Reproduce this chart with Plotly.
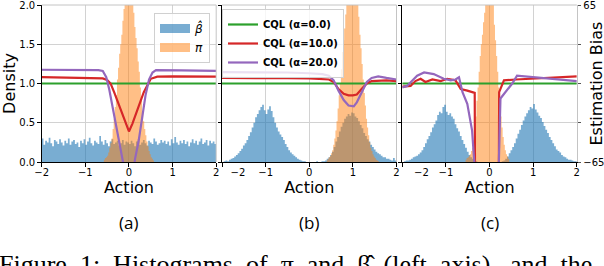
import numpy as np
import plotly.graph_objects as go

W, H = 604, 266

# ---------------- data ----------------
x_ticks = [-2, -1, 0, 1, 2]
x_tick_labels = ["\u22122", "\u22121", "0", "1", "2"]
y_ticks = [0, 0.5, 1.0, 1.5, 2.0]
y_tick_labels = ["0.0", "0.5", "1.0", "1.5", "2.0"]
bias_ticks = [-65, -32.5, 0, 32.5, 65]
bias_tick_labels = ["\u221265", "", "", "", "65"]

panel_labels = ["(a)", "(b)", "(c)"]
series_names = ["CQL (\u03b1=0.0)", "CQL (\u03b1=10.0)", "CQL (\u03b1=20.0)"]
hist_names = ["\u03b2\u0302", "\u03c0"]

beta_start, beta_bin = -2.0, 0.04   # behaviour-policy histogram bins
pi_bin = 0.025                      # learned-policy histogram bins

a_beta = [0.30, 0.22, 0.27, 0.25, 0.31, 0.24, 0.20, 0.28, 0.26, 0.23,
          0.29, 0.25, 0.21, 0.27, 0.24, 0.30, 0.22, 0.26, 0.28, 0.23,
          0.25, 0.19, 0.27, 0.24, 0.29, 0.22, 0.26, 0.31, 0.24, 0.21,
          0.27, 0.25, 0.23, 0.33, 0.26, 0.22, 0.28, 0.24, 0.20, 0.26,
          0.29, 0.23, 0.25, 0.27, 0.21, 0.24, 0.28, 0.22, 0.26, 0.25,
          0.23, 0.27, 0.24, 0.20, 0.26, 0.29, 0.22, 0.25, 0.28, 0.24,
          0.21, 0.27, 0.25, 0.23, 0.30, 0.26, 0.22, 0.24, 0.28, 0.25,
          0.27, 0.23, 0.26, 0.21, 0.29, 0.24, 0.32, 0.25, 0.22, 0.27,
          0.24, 0.28, 0.23, 0.26, 0.20, 0.25, 0.29, 0.24, 0.27, 0.22,
          0.26, 0.30, 0.23, 0.25, 0.28, 0.21, 0.27, 0.24, 0.26, 0.23]
a_pi_start = -0.575
a_pi = [0.03, 0.05, 0.06, 0.08, 0.12, 0.18, 0.24, 0.30, 0.42, 0.55,
        0.70, 0.85, 1.05, 1.20, 1.38, 1.50, 1.62, 1.80, 1.95, 2.10,
        2.30, 2.50, 2.60, 2.40, 2.60, 2.30, 2.10, 1.90, 1.72, 1.58,
        1.45, 1.28, 1.15, 0.95, 0.78, 0.64, 0.52, 0.42, 0.34, 0.26,
        0.20, 0.14, 0.10, 0.06, 0.04, 0.02]

b_beta = [0.00, 0.01, 0.02, 0.01, 0.03, 0.04, 0.05, 0.07, 0.09, 0.11,
          0.14, 0.17, 0.21, 0.24, 0.28, 0.33, 0.38, 0.44, 0.50, 0.57,
          0.61, 0.66, 0.70, 0.73, 0.66, 0.61, 0.67, 0.71, 0.65, 0.57,
          0.50, 0.44, 0.39, 0.35, 0.32, 0.28, 0.23, 0.19, 0.15, 0.12,
          0.10, 0.08, 0.06, 0.04, 0.03, 0.02, 0.01, 0.01, 0.00, 0.00,
          0.00, 0.00, 0.00, 0.00, 0.01, 0.00, 0.00, 0.01, 0.01, 0.02,
          0.04, 0.06, 0.09, 0.13, 0.19, 0.26, 0.32, 0.39, 0.45, 0.50,
          0.55, 0.58, 0.61, 0.59, 0.63, 0.62, 0.58, 0.56, 0.52, 0.47,
          0.43, 0.37, 0.33, 0.29, 0.26, 0.22, 0.19, 0.16, 0.13, 0.11,
          0.10, 0.08, 0.06, 0.06, 0.04, 0.04, 0.03, 0.02, 0.05, 0.02]
b_pi_start = 0.40
b_pi = [0.02, 0.04, 0.06, 0.08, 0.11, 0.15, 0.22, 0.30, 0.40, 0.52,
        0.68, 0.85, 1.00, 1.18, 1.40, 1.55, 1.70, 1.88, 2.05, 2.20,
        2.40, 2.50, 2.60, 2.50, 2.60, 2.45, 2.30, 2.15, 2.00, 1.85,
        1.62, 1.45, 1.25, 1.05, 0.88, 0.72, 0.55, 0.44, 0.34, 0.25,
        0.18, 0.14, 0.10, 0.07, 0.05, 0.03, 0.02, 0.01]

c_beta = [0.00, 0.01, 0.02, 0.02, 0.03, 0.04, 0.06, 0.07, 0.08, 0.10,
          0.12, 0.15, 0.19, 0.24, 0.29, 0.33, 0.38, 0.44, 0.48, 0.53,
          0.60, 0.64, 0.62, 0.70, 0.73, 0.64, 0.60, 0.62, 0.58, 0.55,
          0.48, 0.43, 0.39, 0.33, 0.28, 0.23, 0.18, 0.13, 0.09, 0.06,
          0.04, 0.02, 0.01, 0.00, 0.00, 0.00, 0.00, 0.00, 0.00, 0.00,
          0.00, 0.00, 0.00, 0.00, 0.00, 0.00, 0.00, 0.01, 0.02, 0.04,
          0.07, 0.11, 0.15, 0.19, 0.24, 0.30, 0.36, 0.41, 0.47, 0.53,
          0.58, 0.62, 0.66, 0.70, 0.68, 0.74, 0.67, 0.63, 0.59, 0.56,
          0.51, 0.46, 0.41, 0.37, 0.32, 0.28, 0.24, 0.20, 0.16, 0.14,
          0.12, 0.09, 0.07, 0.06, 0.04, 0.03, 0.03, 0.02, 0.01, 0.01]
c_pi_start = -0.55
c_pi = [0.03, 0.05, 0.06, 0.08, 0.10, 0.14, 0.18, 0.28, 0.42, 0.58,
        0.78, 0.95, 1.15, 1.35, 1.50, 1.62, 1.78, 1.90, 2.05, 2.20,
        2.50, 2.60, 2.50, 2.40, 2.20, 2.00, 1.75, 1.55, 1.35, 1.15,
        0.95, 0.75, 0.58, 0.44, 0.32, 0.22, 0.15, 0.10, 0.07, 0.04]

# estimation bias curves (right axis)
a_x0 = [-2.0, 2.0]
a_b0 = [0.0, 0.0]
a_x10 = [-2.0, -1.5, -1.0, -0.6, -0.5, -0.42, -0.34, -0.19, -0.08, 0.0,
         0.08, 0.19, 0.34, 0.5, 0.65, 1.0, 1.5, 2.0]
a_b10 = [5.3, 5.1, 4.9, 4.2, 2.9, 0.0, -7.2, -22.1, -33.2, -39.7,
         -33.2, -22.1, -7.2, 3.9, 5.7, 5.9, 5.7, 5.7]
a_x20 = [-2.0, -1.5, -1.0, -0.7, -0.6, -0.52, -0.45, -0.38, -0.3, -0.22,
         -0.14, -0.08, 0.0, 0.08, 0.14, 0.22, 0.3, 0.38, 0.46, 0.54,
         0.62, 0.8, 1.2, 1.6, 2.0]
a_b20 = [11.4, 11.4, 11.2, 11.1, 10.4, 5.2, -5.2, -18.2, -33.8, -49.4,
         -62.4, -78.0, -91.0, -78.0, -62.4, -48.1, -29.3, -9.8, 3.3, 9.1,
         11.1, 11.2, 10.9, 10.7, 10.5]

b_x0 = [-2.0, 2.0]
b_b0 = [0.0, 0.0]
b_x10 = [-2.0, -1.5, -1.0, -0.5, 0.0, 0.3, 0.45, 0.56, 0.67, 0.79,
         0.9, 1.0, 1.09, 1.2, 1.32, 1.43, 1.6, 1.77, 2.0]
b_b10 = [4.6, 4.7, 4.6, 4.4, 4.2, 3.9, 3.3, 1.3, -4.6, -8.5,
         -9.8, -9.8, -9.1, -4.6, 0.0, 2.0, 2.3, 2.6, 2.0]
b_x20 = [-2.0, -1.5, -1.0, -0.5, 0.0, 0.3, 0.45, 0.56, 0.67, 0.79,
         0.9, 1.02, 1.09, 1.2, 1.32, 1.43, 1.58, 1.77, 2.0]
b_b20 = [9.4, 9.4, 9.1, 9.1, 8.5, 7.8, 6.5, 2.6, -5.9, -13.7,
         -18.2, -18.9, -15.6, -7.2, 1.3, 4.6, 5.9, 4.6, 3.3]

c_x0 = [-2.0, 2.0]
c_b0 = [0.0, 0.0]
c_x10 = [-2.0, -1.81, -1.7, -1.58, -1.47, -1.31, -1.12, -0.97, -0.78, -0.66,
         -0.51, -0.4, -0.34, -0.33, 0.0, 0.21, 0.22, 0.33, 0.6, 1.0, 1.5, 2.0]
c_b10 = [-2.6, -2.0, 2.0, 3.9, 1.3, 3.3, 2.0, 3.9, 2.6, -4.6,
         -5.9, -7.2, -7.8, -104.0, -104.0, -104.0, -7.2, 2.6, 3.3, 3.9, 4.6, 5.9]
c_x20 = [-2.0, -1.89, -1.78, -1.66, -1.5, -1.28, -1.05, -0.89, -0.78, -0.7,
         -0.62, -0.51, -0.4, -0.34, -0.3, 0.0, 0.2, 0.25, 0.37, 0.52,
         0.63, 1.02, 1.5, 2.0]
c_b20 = [-3.3, -2.0, 2.0, 6.5, 9.1, 7.8, 3.9, 2.6, 3.3, 5.2,
         -7.2, -16.9, -39.0, -65.0, -91.0, -104.0, -84.5, -12.4, -7.2, 0.0,
         6.5, 5.2, 3.9, 2.0]

caption_words = ["Figure", "1:", "Histograms", "of", "\u03c0", "and", "\u03b2\u0302",
                 "(left", "axis),", "and", "the"]

# ---------------- style ----------------
BLUE = "rgba(31,119,180,0.6)"
ORANGE = "rgba(255,127,14,0.5)"
LINE_COLORS = ["#2ca02c", "#d62728", "#9467bd"]
GRID = "#d2d2d2"
FRAME_GREY = "#c4c4c4"
FONT = "DejaVu Sans"
NB = "\u00a0"

px_x = [(41.7, 216.2), (222.0, 396.5), (402.3, 576.8)]
px_y = (5.0, 162.0)
ydom = [1 - px_y[1] / H, 1 - px_y[0] / H]
first_label_pad = [0, 5, 6]   # the leftmost "−2" of panels b and c sits right of its tick

panels = [
    dict(beta=a_beta, pi_start=a_pi_start, pi=a_pi,
         lines=[(a_x0, a_b0), (a_x10, a_b10), (a_x20, a_b20)]),
    dict(beta=b_beta, pi_start=b_pi_start, pi=b_pi,
         lines=[(b_x0, b_b0), (b_x10, b_b10), (b_x20, b_b20)]),
    dict(beta=c_beta, pi_start=c_pi_start, pi=c_pi,
         lines=[(c_x0, c_b0), (c_x10, c_b10), (c_x20, c_b20)]),
]


def step_hist(start, width, vals):
    """Bin edges and heights for a step-filled histogram outline."""
    edges = start + width * np.arange(len(vals) + 1)
    heights = list(vals) + [vals[-1]]
    return edges, heights


fig = go.Figure()
layout = {}
shapes = []
annotations = []

for i, p in enumerate(panels):
    xa = "x" if i == 0 else f"x{i + 1}"
    y1 = "y" if i == 0 else f"y{2 * i + 1}"
    y2 = f"y{2 * i + 2}"
    for (start, width, vals, col) in [(beta_start, beta_bin, p["beta"], BLUE),
                                      (p["pi_start"], pi_bin, p["pi"], ORANGE)]:
        ex, ey = step_hist(start, width, vals)
        fig.add_trace(go.Scatter(x=ex, y=ey, mode="lines", line_shape="hv",
                                 line=dict(width=0, color=col),
                                 fill="tozeroy", fillcolor=col,
                                 xaxis=xa, yaxis=y1, showlegend=False,
                                 hoverinfo="skip"))
    for j, (lx, ly) in enumerate(p["lines"]):
        fig.add_trace(go.Scatter(x=lx, y=ly, mode="lines",
                                 line=dict(color=LINE_COLORS[j], width=2.2),
                                 name="<b>" + series_names[j] + "</b>",
                                 legend="legend2", showlegend=(i == 0),
                                 xaxis=xa, yaxis=y2, hoverinfo="skip"))

    xkey = "xaxis" if i == 0 else f"xaxis{i + 1}"
    y1key = "yaxis" if i == 0 else f"yaxis{2 * i + 1}"
    y2key = f"yaxis{2 * i + 2}"
    tt = list(x_tick_labels)
    tt[0] = NB * (2 * first_label_pad[i]) + tt[0]
    layout[xkey] = dict(
        domain=[px_x[i][0] / W, px_x[i][1] / W], range=[-2, 2], anchor=y1,
        automargin=False,
        tickvals=x_ticks, ticktext=tt, ticks="outside", ticklen=3.5,
        tickcolor="black", tickfont=dict(size=10, color="black"),
        ticklabeloverflow="allow", ticklabelstandoff=-3,
        showline=True, linecolor="black", linewidth=1,
        showgrid=True, gridcolor=GRID, gridwidth=0.8, zeroline=False,
        title=dict(text="Action", font=dict(size=16, color="black"), standoff=5),
    )
    layout[y1key] = dict(
        domain=ydom, range=[0, 2], anchor=xa, automargin=False,
        tickvals=y_ticks, ticktext=y_tick_labels, ticks="outside", ticklen=3.5,
        tickcolor="black", tickfont=dict(size=10, color="black"),
        showticklabels=(i == 0), ticklabeloverflow="allow",
        showline=True, linecolor="black", linewidth=1,
        showgrid=True, gridcolor=GRID, gridwidth=0.8, zeroline=False,
    )
    if i == 0:
        layout[y1key]["title"] = dict(text="Density", font=dict(size=16, color="black"),
                                      standoff=4)
    y2d = dict(overlaying=y1, anchor=xa, side="right", range=[-65, 65],
               automargin=False, showgrid=False, zeroline=False)
    if i == 2:
        y2d.update(tickvals=bias_ticks, ticktext=bias_tick_labels, ticks="outside",
                   ticklen=3.5, tickcolor="#555555", ticklabeloverflow="allow",
                   tickfont=dict(size=10, color="black"),
                   showline=True, linecolor=FRAME_GREY, linewidth=1)
    else:
        y2d.update(visible=False)
        shapes.append(dict(type="line", xref=f"{xa} domain", yref=f"{y1} domain",
                           x0=1, x1=1, y0=0, y1=1,
                           line=dict(color=FRAME_GREY, width=1)))
    layout[y2key] = y2d
    shapes.append(dict(type="line", xref=f"{xa} domain", yref=f"{y1} domain",
                       x0=0, x1=1, y0=1, y1=1, line=dict(color=FRAME_GREY, width=1)))
    annotations.append(dict(text=panel_labels[i], xref="paper", yref="paper",
                            x=(px_x[i][0] + px_x[i][1]) / 2 / W, y=1 - 222 / H,
                            xanchor="center", yanchor="middle", showarrow=False,
                            font=dict(family="Open Sans", size=17, color="black")))

annotations.append(dict(text="Estimation Bias", xref="paper", yref="paper",
                        x=596 / W, y=(ydom[0] + ydom[1]) / 2, textangle=-90,
                        xanchor="center", yanchor="middle", showarrow=False,
                        font=dict(family=FONT, size=16, color="black")))

# legend patches for the histograms
fig.add_trace(go.Scatter(x=[None], y=[None], mode="lines",
                         line=dict(color=BLUE, width=9), name="<i>" + hist_names[0] + "</i>",
                         legend="legend", xaxis="x", yaxis="y"))
fig.add_trace(go.Scatter(x=[None], y=[None], mode="lines",
                         line=dict(color=ORANGE, width=9), name="<i>" + hist_names[1] + "</i>",
                         legend="legend", xaxis="x", yaxis="y"))

# justified caption line (wide inter-word spacing)
annotations.append(dict(text=(" " + NB).join(caption_words), xref="paper", yref="paper",
                        x=-3 / W, y=1 - 248 / H, xanchor="left", yanchor="top",
                        showarrow=False,
                        font=dict(family="Liberation Serif", size=26, color="black")))

fig.update_layout(
    **layout,
    width=W, height=H, autosize=False,
    margin=dict(l=0, r=0, t=0, b=0, autoexpand=False),
    paper_bgcolor="white", plot_bgcolor="white",
    font=dict(family=FONT, color="black"),
    shapes=shapes, annotations=annotations,
    legend=dict(x=154 / W, y=1 - 13 / H, xanchor="left", yanchor="top",
                bgcolor="rgba(255,255,255,0.8)", bordercolor="#d0d0d0", borderwidth=1,
                font=dict(family=FONT, size=12, color="black"), itemwidth=30),
    legend2=dict(x=222 / W, y=1 - 9 / H, xanchor="left", yanchor="top",
                 bgcolor="rgba(255,255,255,0.8)", bordercolor="#d0d0d0", borderwidth=1,
                 font=dict(family=FONT, size=10, color="black"), itemwidth=30,
                 tracegroupgap=0),
)

fig.write_html("out.html",
               config={"displayModeBar": False},
               post_script="document.body.style.margin='0px';"
                           "document.body.style.overflow='hidden';")
